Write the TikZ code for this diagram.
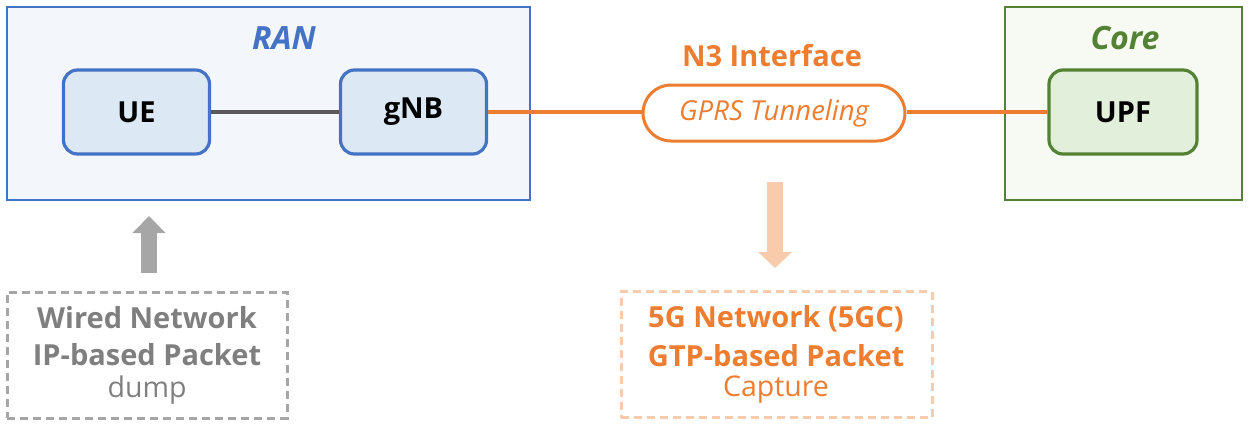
\documentclass[tikz,border=0pt]{standalone}
\usepackage{fontspec}
\setmainfont{Open Sans}
\usetikzlibrary{arrows.meta,shapes.misc}
\definecolor{ranb}{HTML}{4472C4}
\definecolor{ranfill}{HTML}{F3F7FC}
\definecolor{nodefill}{HTML}{DDE8F5}
\definecolor{coreg}{HTML}{548235}
\definecolor{corefill}{HTML}{F6FAF3}
\definecolor{upffill}{HTML}{E2EFDA}
\definecolor{orng}{HTML}{ED7D31}
\definecolor{lorng}{HTML}{F8CBAD}
\definecolor{gry}{HTML}{7F7F7F}
\definecolor{agry}{HTML}{A6A6A6}
\definecolor{lnk}{HTML}{595959}
\tikzset{
  area/.style={draw, line width=2.4pt, minimum width=#1},
  nodebox/.style={draw=ranb, fill=nodefill, line width=3.2pt, rounded corners=14pt,
    minimum width=146pt, minimum height=84pt, font=\fontsize{29}{34}\selectfont\bfseries},
  arealbl/.style={font=\fontsize{32}{36}\selectfont\bfseries\itshape},
  dbox/.style={draw, line width=3pt, dash pattern=on 8pt off 5pt,
    minimum height=126pt, inner sep=0pt},
  boldline/.style={font=\fontsize{29}{34}\selectfont\bfseries},
  plainline/.style={font=\fontsize{28.5}{34}\selectfont},
}
\begin{document}
\begin{tikzpicture}[x=1pt,y=-1pt]
\useasboundingbox (0,0) rectangle (1250,426);
% areas
\node[area=523pt, draw=ranb, fill=ranfill, minimum height=193pt] (ran) at (268.5,103.5) {};
\node[area=237pt, draw=coreg, fill=corefill, minimum height=193pt] (core) at (1123.5,103.5) {};
\node[arealbl, text=ranb] (ranlbl) at (284,38) {RAN};
\node[arealbl, text=coreg] (corelbl) at (1125,38) {Core};
% nodes
\node[nodebox] (ue) at (136.5,112) {UE};
\node[nodebox] (gnb) at (413.5,112) {gNB};
\node[nodebox, draw=coreg, fill=upffill, minimum width=148pt] (upf) at (1123,112) {UPF};
\node[rounded rectangle, draw=orng, fill=white, line width=3pt, minimum width=262pt,
  minimum height=56pt, inner sep=0pt, text=orng, font=\fontsize{27.5}{32}\selectfont\itshape] (tun) at (774,113) {GPRS Tunneling};
\node[text=orng, font=\fontsize{29}{34}\selectfont\bfseries] (n3) at (772,56) {N3 Interface};
% links
\draw[lnk, line width=3.2pt] (ue) -- (gnb);
\draw[orng, line width=3.2pt] (gnb) -- (gnb -| tun.west);
\draw[orng, line width=3.2pt] (upf -| tun.east) -- (upf);
% bottom boxes
\node[dbox, draw=agry, minimum width=280pt] (wired) at (147,355) {};
\node[boldline, text=gry] (w1) at (147,318) {Wired Network};
\node[boldline, text=gry] (w2) at (147,355) {IP-based Packet};
\node[plainline, text=gry] (w3) at (147,390) {dump};
\node[dbox, draw=lorng, minimum width=311pt] (gtp) at (776.5,354.5) {};
\node[boldline, text=orng] (g1) at (776,319) {5G Network (5GC)};
\node[boldline, text=orng] (g2) at (776,356) {GTP-based Packet};
\node[plainline, text=orng] (g3) at (776,390) {Capture};
% arrows
\coordinate (ga1) at (149,273);
\coordinate (ga2) at (149,216);
\draw[agry, line width=16pt, -{Triangle[width=32pt,length=17pt]}] (ga1) -- (ga2);
\coordinate (oa1) at (775,182);
\coordinate (oa2) at (775,268);
\draw[lorng, line width=16pt, -{Triangle[width=33pt,length=16pt]}] (oa1) -- (oa2);
\end{tikzpicture}
\end{document}
